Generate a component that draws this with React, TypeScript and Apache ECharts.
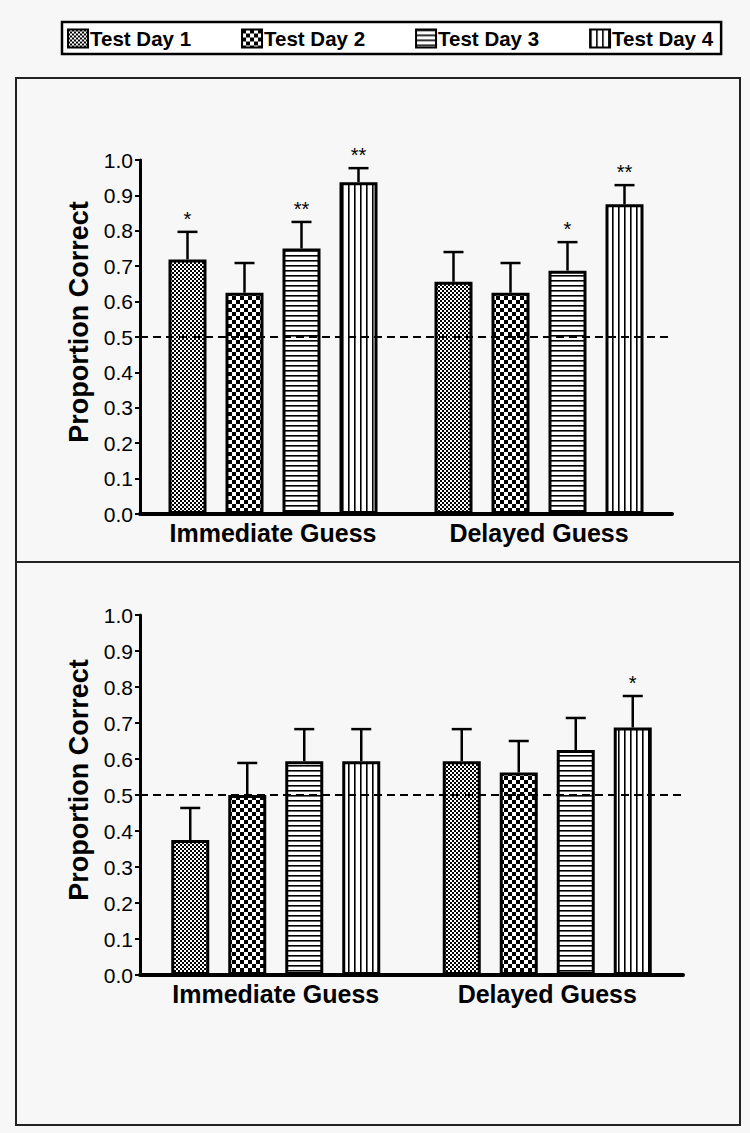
import React, { useEffect, useRef } from 'react';
import * as echarts from 'echarts';

// ---------- data ----------
const categories = ['Immediate Guess', 'Delayed Guess'];
const days = ['Test Day 1', 'Test Day 2', 'Test Day 3', 'Test Day 4'];
const yAxisName = 'Proportion Correct';
const chanceLevel = 0.5;

// top panel: [Immediate, Delayed] per day
const topMeans = [
  [0.719, 0.656],
  [0.625, 0.625],
  [0.75, 0.6875],
  [0.9375, 0.875],
];
const topUpper = [
  [0.797, 0.74],
  [0.709, 0.709],
  [0.825, 0.768],
  [0.977, 0.929],
];
const topStars = [
  ['*', ''],
  ['', ''],
  ['**', '*'],
  ['**', '**'],
];

// bottom panel
const bottomMeans = [
  [0.375, 0.594],
  [0.5, 0.5625],
  [0.594, 0.625],
  [0.594, 0.6875],
];
const bottomUpper = [
  [0.464, 0.683],
  [0.589, 0.65],
  [0.683, 0.714],
  [0.683, 0.775],
];
const bottomStars = [
  ['', ''],
  ['', ''],
  ['', ''],
  ['', '*'],
];

// ---------- style constants ----------
const FONT = 'Arial, "Liberation Sans", sans-serif';
const BAR_W = 38;
const BAR_GAP = 0.5;

function makePattern(kind: number) {
  const c = document.createElement('canvas');
  let w = 4, h = 4;
  if (kind === 0) { w = 4; h = 4; }
  if (kind === 1) { w = 8; h = 8; }
  if (kind === 2) { w = 4; h = 5; }
  if (kind === 3) { w = 6; h = 4; }
  c.width = w; c.height = h;
  const ctx = c.getContext('2d')!;
  ctx.fillStyle = '#fff';
  ctx.fillRect(0, 0, w, h);
  ctx.fillStyle = '#000';
  if (kind === 0) {
    ctx.fillRect(0, 0, 2, 2);
    ctx.fillRect(2, 2, 2, 2);
  } else if (kind === 1) {
    ctx.fillRect(0, 0, 4, 4);
    ctx.fillRect(4, 4, 4, 4);
  } else if (kind === 2) {
    ctx.fillRect(0, 0, w, 1);
    ctx.fillStyle = '#666';
    ctx.fillRect(0, 1, w, 1);
  } else {
    ctx.fillRect(0, 0, 1, h);
    ctx.fillStyle = '#666';
    ctx.fillRect(1, 0, 1, h);
  }
  return { image: c as any, repeat: 'repeat' as const, imageWidth: w, imageHeight: h };
}

function buildErrData(means: number[][], upper: number[][], stars: string[][]) {
  const data: number[][] = [];
  const labels: string[] = [];
  for (let d = 0; d < means.length; d++) {
    for (let k = 0; k < means[d].length; k++) {
      data.push([k, d, means[d][k], upper[d][k]]);
      labels.push(stars[d][k]);
    }
  }
  return { data, labels };
}

function makeErrSeries(gridIdx: number, means: number[][], upper: number[][], stars: string[][]) {
  const { data, labels } = buildErrData(means, upper, stars);
  return {
    type: 'custom',
    xAxisIndex: gridIdx,
    yAxisIndex: gridIdx,
    z: 4,
    silent: true,
    encode: { x: 0, y: 3 },
    data,
    renderItem: (params: any, api: any) => {
      const cat = api.value(0);
      const day = api.value(1);
      const mean = api.value(2);
      const up = api.value(3);
      const step = BAR_W * (1 + BAR_GAP);
      const center = api.coord([cat, 0])[0];
      const x = center + (day - 1.5) * step;
      const yMean = api.coord([cat, mean])[1];
      const yUp = api.coord([cat, up])[1];
      const children: any[] = [
        { type: 'line', shape: { x1: x, y1: yMean, x2: x, y2: yUp }, style: { stroke: '#000', lineWidth: 2.5 } },
        { type: 'line', shape: { x1: x - 10, y1: yUp, x2: x + 10, y2: yUp }, style: { stroke: '#000', lineWidth: 2.5 } },
      ];
      const s = labels[params.dataIndex];
      if (s) {
        children.push({
          type: 'text',
          x,
          y: yUp - 3,
          style: { text: s, fill: '#000', font: `20px ${FONT}`, align: 'center', verticalAlign: 'bottom' },
        });
      }
      return { type: 'group', children };
    },
  };
}

export default function App() {
  const ref = useRef<HTMLDivElement>(null);
  useEffect(() => {
    if (!ref.current) return;
    const chart = echarts.init(ref.current, undefined, { renderer: 'svg' });
    const patterns = [0, 1, 2, 3].map(makePattern);

    const grids = [
      { left: 140, right: 78, top: 160, height: 354 },
      { left: 140, right: 67, top: 615, height: 360 },
    ];

    const xAxes = grids.map((_, i) => ({
      type: 'category',
      gridIndex: i,
      data: categories,
      axisTick: { show: false },
      axisLine: { lineStyle: { color: '#000', width: 4 } },
      axisLabel: { interval: 0, color: '#000', fontSize: 25, fontWeight: 'bold', fontFamily: FONT, margin: 6 },
    }));
    const yAxes = grids.map((_, i) => ({
      type: 'value',
      gridIndex: i,
      min: 0,
      max: 1,
      interval: 0.1,
      name: yAxisName,
      nameLocation: 'middle',
      nameGap: 48,
      nameTextStyle: { color: '#000', fontSize: 27, fontWeight: 'bold', fontFamily: FONT, padding: [0, 0, 0, 30] },
      splitLine: { show: false },
      axisLine: { show: true, lineStyle: { color: '#000', width: 3 } },
      axisTick: { show: true, length: 5, lineStyle: { color: '#000', width: 2 } },
      axisLabel: { color: '#000', fontSize: 21, fontFamily: FONT, margin: 7, formatter: (v: number) => v.toFixed(1) },
    }));

    const barSeries: any[] = [];
    [topMeans, bottomMeans].forEach((means, g) => {
      means.forEach((vals, d) => {
        barSeries.push({
          type: 'bar',
          name: days[d],
          xAxisIndex: g,
          yAxisIndex: g,
          data: vals,
          barWidth: BAR_W,
          barGap: `${BAR_GAP * 100}%`,
          itemStyle: { color: patterns[d], borderColor: '#000', borderWidth: 3 },
          silent: true,
          markLine: d === 3 ? {
            silent: true,
            symbol: 'none',
            label: { show: false },
            lineStyle: { color: '#000', type: [8, 5], width: 2 },
            data: [{ yAxis: chanceLevel }],
            z: 5,
          } : undefined,
        });
      });
    });

    const option: any = {
      animation: false,
      backgroundColor: '#f7f7f7',
      legend: {
        data: days,
        left: 62,
        top: 22,
        icon: 'rect',
        itemWidth: 20,
        itemHeight: 18,
        itemGap: 50,
        padding: [6, 8, 5, 5],
        selectedMode: false,
        backgroundColor: '#fff',
        borderColor: '#000',
        borderWidth: 2.5,
        borderRadius: 0,
        itemStyle: { borderColor: '#000', borderWidth: 2 },
        textStyle: { color: '#000', fontSize: 20.5, fontWeight: 'bold', fontFamily: FONT, padding: [0, 0, 0, -3] },
      },
      graphic: [
        { type: 'rect', silent: true, shape: { x: 16, y: 78, width: 724, height: 1047 }, style: { fill: 'none', stroke: '#222', lineWidth: 2 } },
        { type: 'line', silent: true, shape: { x1: 16, y1: 562, x2: 740, y2: 562 }, style: { stroke: '#222', lineWidth: 2 } },
      ],
      grid: grids,
      xAxis: xAxes,
      yAxis: yAxes,
      series: [
        ...barSeries,
        makeErrSeries(0, topMeans, topUpper, topStars),
        makeErrSeries(1, bottomMeans, bottomUpper, bottomStars),
      ],
    };
    chart.setOption(option);
    return () => chart.dispose();
  }, []);
  return (
    <div style={{ position: 'absolute', left: 0, top: 0, width: 750, height: 1133, background: '#f7f7f7' }}>
      <div ref={ref} style={{ width: 750, height: 1133 }} />
    </div>
  );
}
